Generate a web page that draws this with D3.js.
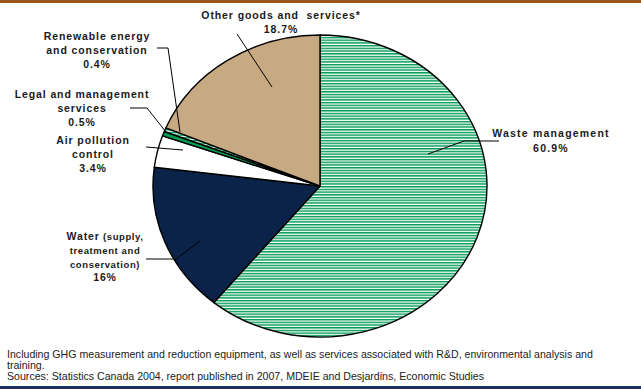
<!DOCTYPE html>
<html>
<head>
<meta charset="utf-8">
<script src="https://cdn.jsdelivr.net/npm/d3@7"></script>
<style>
  body { margin: 0; background: #fff; }
  text { font-family: "Liberation Sans", Arial, sans-serif; fill: #1a1a1a; }
  .lbl { font-weight: bold; font-size: 10.5px; letter-spacing: 0.9px; }
  .lbl .sm { font-size: 9.5px; letter-spacing: 0.6px; }
  .note { font-size: 10.6px; fill: #222; }
  .leader { stroke: #000; stroke-width: 1; fill: none; }
</style>
</head>
<body>
<script>
// slices, clockwise from 12 o'clock
var categories = ["Waste management", "Water", "Air pollution control",
  "Legal and management services", "Renewable energy and conservation", "Other goods and services*"];
var shares = [60.9, 16, 3.4, 0.5, 0.4, 18.7];
var shareLabels = ["60.9%", "16%", "3.4%", "0.5%", "0.4%", "18.7%"];
var fills = ["url(#stripes)", "#0b2348", "#ffffff", "#009a55", "url(#stripes)", "#c8aa82"];

var notes = [
  "Including GHG measurement and reduction equipment, as well as services associated with R&D, environmental analysis and",
  "training.",
  "Sources: Statistics Canada 2004, report published in 2007, MDEIE and Desjardins, Economic Studies"
];

var width = 641, height = 391;
var cx = 320, cy = 186, rx = 167, ry = 151;

var svg = d3.select("body").append("svg")
    .attr("width", width)
    .attr("height", height);

var defs = svg.append("defs");
var pat = defs.append("pattern")
    .attr("id", "stripes")
    .attr("patternUnits", "userSpaceOnUse")
    .attr("width", 8).attr("height", 3);
pat.append("rect").attr("width", 8).attr("height", 3).attr("fill", "#fff");
pat.append("rect").attr("width", 8).attr("height", 1.6).attr("fill", "#009a55");

// frame bars
svg.append("rect").attr("x", 0).attr("y", 0).attr("width", width).attr("height", 3).attr("fill", "#99551a");
svg.append("rect").attr("x", 0).attr("y", 386).attr("width", width).attr("height", 3).attr("fill", "#1b3262");

var pie = d3.pie().sort(null).value(function(d) { return d; });
var arcs = pie(shares);
var arc = d3.arc().innerRadius(0).outerRadius(rx);

var g = svg.append("g")
    .attr("transform", "translate(" + cx + "," + cy + ") scale(1," + (ry / rx) + ")");

g.selectAll("path")
  .data(arcs)
  .enter().append("path")
    .attr("d", arc)
    .attr("fill", function(d, i) { return fills[i]; })
    .attr("stroke", "#000")
    .attr("stroke-width", 1.4)
    .attr("stroke-linejoin", "round")
    .attr("vector-effect", "non-scaling-stroke");

// label layout: text anchor x, first baseline, leader polyline
var layout = [
  { x: 551, y: 137, ls: 1.2, lines: [["Waste management"]], leader: [[428, 154], [464, 141], [499, 141]] },
  { x: 105, y: 240, lines: [["Water", " (supply,"], [null, "treatment and"], [null, "conservation)"]], leader: [[200, 241], [176, 259], [146, 259]] },
  { x: 93, y: 144, lines: [["Air pollution"], ["control"]], leader: [[146, 147], [183, 150]] },
  { x: 82, y: 98, lines: [["Legal and management"], ["services"]], leader: [[130, 108], [147, 108], [166, 132]] },
  { x: 97, y: 40, lines: [["Renewable energy"], ["and conservation"]], leader: [[157, 48], [168, 48], [180, 132]] },
  { x: 281, y: 19, lines: [["Other goods and  services*"]], leader: [[237, 34], [272, 87]] }
];

var lineGen = d3.line();
svg.append("g").selectAll("path")
  .data(layout)
  .enter().append("path")
    .attr("class", "leader")
    .attr("d", function(d) { return lineGen(d.leader); });

layout.forEach(function(l, i) {
  var t = svg.append("text")
      .attr("class", "lbl")
      .attr("text-anchor", "middle")
      .attr("x", l.x)
      .attr("y", l.y)
      .attr("xml:space", "preserve")
      .style("white-space", "pre");
  if (l.ls) t.style("letter-spacing", l.ls + "px");
  l.lines.forEach(function(parts, j) {
    var first = true;
    parts.forEach(function(p, k) {
      if (p === null) return;
      var s = t.append("tspan").text(p);
      if (k > 0) s.attr("class", "sm");
      if (first) { s.attr("x", l.x).attr("dy", j === 0 ? 0 : 13.8); first = false; }
    });
  });
  t.append("tspan").attr("x", l.x).attr("dy", i === 0 ? 15 : (i === 5 ? 14 : 13.8)).text(shareLabels[i]);
});

svg.selectAll("text.note")
  .data(notes)
  .enter().append("text")
    .attr("class", "note")
    .attr("x", 7)
    .attr("y", function(d, i) { return 357.5 + i * 11; })
    .text(function(d) { return d; });
</script>
</body>
</html>
